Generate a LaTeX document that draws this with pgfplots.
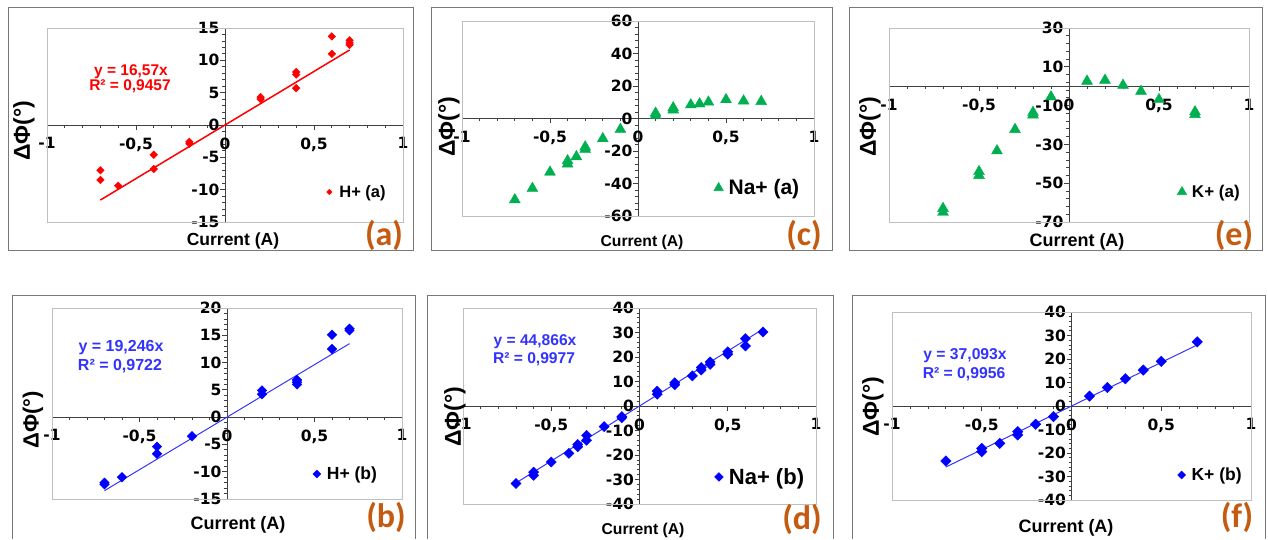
\documentclass[border=0pt]{standalone}
\usepackage{fontspec}
\setmainfont{Liberation Sans}
\newfontfamily\carl{Carlito}
\newfontfamily\dv{DejaVu Sans}
\usepackage{pgfplots}
\pgfplotsset{compat=1.18}
\definecolor{mred}{RGB}{255,0,0}
\definecolor{mgreen}{RGB}{0,176,80}
\definecolor{mblue}{RGB}{0,0,255}
\definecolor{eqblue}{RGB}{51,51,255}
\definecolor{lab}{RGB}{197,90,17}
\definecolor{axc}{RGB}{64,64,64}
\definecolor{pgray}{RGB}{191,191,191}
\definecolor{bgray}{RGB}{120,120,120}
\newcommand{\fs}[1]{\fontsize{#1pt}{#1pt}\selectfont}
\newcommand{\tf}{\dv\fontsize{15.5pt}{16pt}\selectfont\bfseries}
\pgfplotsset{
 panel/.style={
  scale only axis, anchor=south west,
  axis lines=middle,
  axis line style={-, draw=axc, line width=1pt},
  hide obscured x ticks=false, hide obscured y ticks=false,
  xmin=-1, xmax=1,
  xtick={-1,-0.5,0,0.5,1},
  xticklabels={-1,{-0,5},0,{0,5},1},
  minor x tick num=4, minor y tick num=4,
  tick align=outside,
  major tick length=5pt, minor tick length=3pt,
  tick style={draw=axc, line width=0.8pt},
  xticklabel style={font=\tf, yshift=-4pt},
  yticklabel style={font=\tf, xshift=3pt},
  clip=false,
  legend style={draw=none, fill=none, inner sep=0pt, anchor=west, nodes={inner sep=1pt}},
 },
}
\begin{document}
\begin{tikzpicture}
\useasboundingbox (0,0) rectangle (1268pt,539pt);
% ---------- (a)
\begin{axis}[panel, at={(47pt,317pt)}, width=356pt, height=194pt,
  ymin=-15, ymax=15, ytick={-15,-10,-5,0,5,10,15}, yticklabels={-15,-10,-5,0,5,10,15},
  legend style={at={(axis description cs:0.785,0.155)}, font=\fs{16.5}\bfseries},
  legend image code/.code={\path[draw=none,fill=none] (0pt,0pt) -- (9pt,0pt); \draw[#1,mark size=1.9pt] plot coordinates {(0pt,0pt)};}]
\draw[pgray, line width=0.8pt] (rel axis cs:0,0) rectangle (rel axis cs:1,1);
\addplot[mred, line width=1.5pt, forget plot] coordinates {(-0.7,-11.599) (0.7,11.599)};
\addplot[only marks, mark=square*, color=mred, mark options={rotate=45}, mark size=2.7pt] coordinates {
(-0.7,-7.0) (-0.7,-8.5) (-0.6,-9.4) (-0.4,-4.6) (-0.4,-6.8) (-0.2,-2.6) (-0.2,-2.9) (0.2,4.3) (0.2,4.0) (0.4,8.2) (0.4,7.8) (0.4,5.7) (0.6,13.7) (0.6,11.0) (0.7,13.1) (0.7,12.7) (0.7,12.4)};
\addlegendentry{H+ (a)}
\end{axis}
% ---------- (c)
\begin{axis}[panel, at={(462pt,323pt)}, width=352pt, height=195pt,
  ymin=-60, ymax=60, ytick={-60,-40,-20,0,20,40,60}, yticklabels={-60,-40,-20,0,20,40,60},
  legend style={at={(axis description cs:0.715,0.144)}, font=\fs{21}\bfseries},
  legend image code/.code={\path[draw=none,fill=none] (0pt,0pt) -- (9pt,0pt); \draw[#1,mark size=5.5pt] plot coordinates {(0pt,0pt)};}]
\draw[pgray, line width=0.8pt] (rel axis cs:0,0) rectangle (rel axis cs:1,1);
\addplot[only marks, mark=triangle*, color=mgreen, mark size=6.3pt] coordinates {
(-0.7,-50) (-0.6,-43) (-0.5,-33) (-0.4,-26) (-0.4,-28) (-0.35,-23.5) (-0.3,-17.5) (-0.3,-19) (-0.2,-12.4) (-0.1,-6.7) (0.1,3.3) (0.1,1.8) (0.2,6.6) (0.2,5.2) (0.3,8.4) (0.35,9) (0.4,10.1) (0.5,11.6) (0.6,10.8) (0.7,10.5)};
\addlegendentry{Na+ (a)}
\end{axis}
% ---------- (e)
\begin{axis}[panel, at={(889pt,317pt)}, width=360pt, height=194pt,
  ymin=-70, ymax=30, ytick={-70,-50,-30,-10,10,30}, yticklabels={-70,-50,-30,-10,10,30},
  legend style={at={(axis description cs:0.80,0.155)}, font=\fs{17}\bfseries},
  legend image code/.code={\path[draw=none,fill=none] (0pt,0pt) -- (9pt,0pt); \draw[#1,mark size=5.5pt] plot coordinates {(0pt,0pt)};}]
\draw[pgray, line width=0.8pt] (rel axis cs:0,0) rectangle (rel axis cs:1,1);
\addplot[only marks, mark=triangle*, color=mgreen, mark size=6.3pt] coordinates {
(-0.7,-63) (-0.7,-65) (-0.5,-44) (-0.5,-46) (-0.4,-33.3) (-0.3,-22.3) (-0.2,-13.5) (-0.2,-14.8) (-0.1,-5.5) (0.1,2.6) (0.2,3.1) (0.3,0.5) (0.4,-2.6) (0.5,-6.9) (0.7,-13.2) (0.7,-14.6)};
\addlegendentry{K+ (a)}
\end{axis}
% ---------- (b)
\begin{axis}[panel, at={(52pt,40pt)}, width=350pt, height=191pt,
  ymin=-15, ymax=20, ytick={-15,-10,-5,0,5,10,15,20}, yticklabels={-15,-10,-5,0,5,10,15,20},
  legend style={at={(axis description cs:0.745,0.131)}, font=\fs{17.5}\bfseries},
  legend image code/.code={\path[draw=none,fill=none] (0pt,0pt) -- (9pt,0pt); \draw[#1,mark size=2.8pt] plot coordinates {(0pt,0pt)};}]
\draw[pgray, line width=0.8pt] (rel axis cs:0,0) rectangle (rel axis cs:1,1);
\addplot[eqblue, line width=1pt, forget plot] coordinates {(-0.7,-13.472) (0.7,13.472)};
\addplot[only marks, mark=square*, color=mblue, mark options={rotate=45}, mark size=3.4pt] coordinates {
(-0.7,-12.0) (-0.7,-12.3) (-0.6,-11.0) (-0.4,-5.4) (-0.4,-6.7) (-0.2,-3.5) (0.2,4.9) (0.2,4.2) (0.4,6.8) (0.4,6.0) (0.4,6.4) (0.6,15.1) (0.6,12.5) (0.7,16.2) (0.7,15.9)};
\addlegendentry{H+ (b)}
\end{axis}
% ---------- (d)
\begin{axis}[panel, at={(463pt,35pt)}, width=353pt, height=196pt,
  ymin=-40, ymax=40, ytick={-40,-30,...,40}, yticklabels={-40,-30,-20,-10,0,10,20,30,40},
  legend style={at={(axis description cs:0.712,0.138)}, font=\fs{22}\bfseries},
  legend image code/.code={\path[draw=none,fill=none] (0pt,0pt) -- (9pt,0pt); \draw[#1,mark size=3.1pt] plot coordinates {(0pt,0pt)};}]
\draw[pgray, line width=0.8pt] (rel axis cs:0,0) rectangle (rel axis cs:1,1);
\addplot[eqblue, line width=1pt, forget plot] coordinates {(-0.7,-31.406) (0.7,31.406)};
\addplot[only marks, mark=square*, color=mblue, mark options={rotate=45}, mark size=3.6pt] coordinates {
(-0.7,-31.6) (-0.6,-27.0) (-0.6,-28.3) (-0.5,-22.9) (-0.4,-19.3) (-0.35,-15.7) (-0.35,-16.6) (-0.3,-12.0) (-0.3,-14.0) (-0.2,-8.4) (-0.1,-4.8) (-0.1,-4.3) (0.1,6.1) (0.1,4.8) (0.2,9.5) (0.2,8.7) (0.3,12.3) (0.35,15.7) (0.35,14.7) (0.4,18.0) (0.4,17.0) (0.5,22.1) (0.5,21.1) (0.6,27.5) (0.6,24.5) (0.7,30.2)};
\addlegendentry{Na+ (b)}
\end{axis}
% ---------- (f)
\begin{axis}[panel, at={(892pt,39pt)}, width=359pt, height=188pt,
  ymin=-40, ymax=40, ytick={-40,-30,...,40}, yticklabels={-40,-30,-20,-10,0,10,20,30,40},
  legend style={at={(axis description cs:0.795,0.133)}, font=\fs{17.5}\bfseries},
  legend image code/.code={\path[draw=none,fill=none] (0pt,0pt) -- (9pt,0pt); \draw[#1,mark size=2.8pt] plot coordinates {(0pt,0pt)};}]
\draw[pgray, line width=0.8pt] (rel axis cs:0,0) rectangle (rel axis cs:1,1);
\addplot[eqblue, line width=1pt, forget plot] coordinates {(-0.7,-25.965) (0.7,25.965)};
\addplot[only marks, mark=square*, color=mblue, mark options={rotate=45}, mark size=3.7pt] coordinates {
(-0.7,-23.4) (-0.5,-18.0) (-0.5,-19.4) (-0.4,-15.9) (-0.3,-10.9) (-0.3,-12.3) (-0.2,-7.8) (-0.1,-4.5) (0.1,4.2) (0.2,7.9) (0.3,11.6) (0.4,15.3) (0.5,19.0) (0.7,27.3)};
\addlegendentry{K+ (b)}
\end{axis}
% ---------- outer boxes
\draw[bgray, line width=0.8pt] (8pt,532pt) rectangle (413pt,289pt);
\draw[bgray, line width=0.8pt] (431pt,532pt) rectangle (832pt,289pt);
\draw[bgray, line width=0.8pt] (849pt,532pt) rectangle (1262pt,289pt);
\draw[bgray, line width=0.8pt] (12pt,0pt) -- (12pt,244pt) -- (415pt,244pt) -- (415pt,0pt);
\draw[bgray, line width=0.8pt] (427pt,0pt) -- (427pt,244pt) -- (833pt,244pt) -- (833pt,0pt);
\draw[bgray, line width=0.8pt] (852pt,0pt) -- (852pt,244pt) -- (1265pt,244pt) -- (1265pt,0pt);
% ---------- equations
\node[mred, font=\fs{15.5}\bfseries] at (131pt,467pt) {y = 16,57x};
\node[mred, font=\fs{15.5}\bfseries] at (130pt,453pt) {R² = 0,9457};
\node[eqblue, font=\fs{16}\bfseries] at (121pt,191pt) {y = 19,246x};
\node[eqblue, font=\fs{16}\bfseries] at (120pt,173pt) {R² = 0,9722};
\node[eqblue, font=\fs{15.6}\bfseries] at (535pt,197pt) {y = 44,866x};
\node[eqblue, font=\fs{15.6}\bfseries] at (534pt,180pt) {R² = 0,9977};
\node[eqblue, font=\fs{15.7}\bfseries] at (965pt,183pt) {y = 37,093x};
\node[eqblue, font=\fs{15.7}\bfseries] at (964pt,165pt) {R² = 0,9956};
% ---------- x labels
\node[font=\fs{17.5}\bfseries] at (233pt,298pt) {Current (A)};
\node[font=\fs{15.7}\bfseries] at (642pt,297pt) {Current (A)};
\node[font=\fs{18}\bfseries] at (1077pt,297pt) {Current (A)};
\node[font=\fs{18}\bfseries] at (238pt,14pt) {Current (A)};
\node[font=\fs{15.7}\bfseries] at (643pt,9pt) {Current (A)};
\node[font=\fs{18}\bfseries] at (1066pt,11pt) {Current (A)};
% ---------- y labels
\node[rotate=90, font=\fs{23}\bfseries] at (24pt,408pt) {ΔΦ(°)};
\node[rotate=90, font=\fs{23}\bfseries] at (449pt,412pt) {ΔΦ(°)};
\node[rotate=90, font=\fs{23}\bfseries] at (870pt,412pt) {ΔΦ(°)};
\node[rotate=90, font=\fs{22}\bfseries] at (33pt,119pt) {ΔΦ(°)};
\node[rotate=90, font=\fs{23}\bfseries] at (455pt,122pt) {ΔΦ(°)};
\node[rotate=90, font=\fs{23}\bfseries] at (873pt,132pt) {ΔΦ(°)};
% ---------- panel labels
\node[lab, font=\carl\fs{34}\bfseries] at (384pt,304pt) {(a)};
\node[lab, font=\carl\fs{34}\bfseries] at (804pt,304pt) {(c)};
\node[lab, font=\carl\fs{34}\bfseries] at (1234pt,304pt) {(e)};
\node[lab, font=\carl\fs{34}\bfseries] at (386pt,22pt) {(b)};
\node[lab, font=\carl\fs{34}\bfseries] at (802pt,20pt) {(d)};
\node[lab, font=\carl\fs{34}\bfseries] at (1237pt,22pt) {(f)};
\end{tikzpicture}
\end{document}
